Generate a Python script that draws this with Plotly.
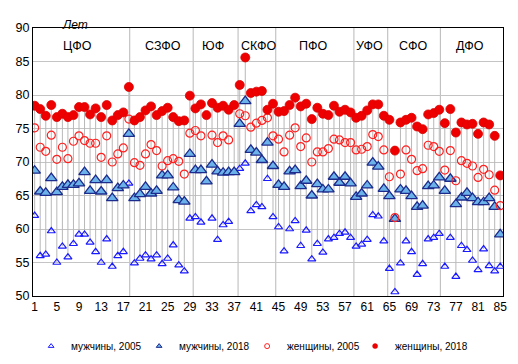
import plotly.graph_objects as go

regions = list(range(1, 86))

men_2005 = [62.0, 56.0, 56.2, 59.7, 55.0, 57.4, 55.8, 57.8, 59.2, 59.2, 58.0, 56.6, 55.0, 58.5, 54.4, 56.0, 56.6, 66.8,
            54.9, 55.6, 56.1, 55.5, 56.1, 54.8, 55.6, 57.6, 54.6, 53.7, 61.6,
            61.8, 61.0, None, 61.6, 58.4, 60.6, 61.1, None,
            69.0, 69.8, 62.7, 63.6, 63.3, 67.5, 61.8,
            60.3, 56.7, 60.0, 61.2, 57.5, 59.8, 55.5, 57.8, 56.5, 58.5, 58.7, 59.3, 59.5, 58.7,
            57.4, 57.7, 58.4, 62.1, 61.9, 58.2,
            54.1, 50.6, 54.9, 58.2, 56.6, 53.2, 54.8, 58.5, 58.7, 59.3,
            54.4, 58.7, 52.9, 57.5, 56.9, 55.3, 53.9, 57.0, 54.5, 53.7, 54.4]

men_2018 = [68.7, 65.6, 65.4, 67.6, 65.5, 66.3, 66.6, 66.6, 66.8, 68.5, 65.7, 67.3, 65.6, 67.3, 64.6, 66.1, 66.5, 74.2,
            64.6, 65.2, 66.3, 65.3, 65.7, 68.0, 68.0, 66.2, 64.3, 64.1, 71.2,
            68.8, 68.8, 67.1, 69.6, 68.6, 68.4, 68.5, 68.5,
            75.7, 79.1, 71.8, 71.4, 70.3, 72.9, 69.4,
            66.6, 66.3, 68.6, 68.8, 66.4, 67.2, 65.0, 66.7, 65.9, 65.9, 67.8, 66.9, 67.8, 66.8,
            64.8, 65.3, 66.5, 69.9, 69.3, 66.0,
            64.9, 61.5, 65.9, 65.7, 64.9, 63.3, 63.5, 66.4, 66.5, 67.7,
            65.7, 67.5, 63.7, 64.7, 65.4, 64.6, 64.0, 64.0, 64.6, 63.3, 59.2]

women_2005 = [75.1, 72.2, 71.6, 74.0, 70.4, 72.2, 70.5, 73.1, 73.9, 73.2, 72.8, 72.8, 70.7, 73.9, 70.0, 71.2, 72.1, 76.4,
              69.9, 69.5, 71.2, 72.6, 71.7, 69.4, 70.2, 70.5, 70.1, 68.2, 74.3,
              74.7, 73.9, None, 74.0, 72.9, 73.9, 73.3, None,
              77.2, 76.9, 75.2, 75.8, 76.2, 76.6, 73.9,
              73.4, 71.5, 74.0, 75.1, 72.3, 73.6, 70.0, 71.5, 71.5, 72.0, 73.4, 73.3, 72.9, 72.9,
              71.8, 71.9, 72.3, 74.1, 73.8, 71.8,
              67.8, 61.7, 68.2, 71.8, 70.4, 68.7, 69.0, 72.5, 72.3, 71.6,
              68.8, 71.7, 67.2, 70.2, 69.8, 69.4, 67.7, 68.9, 68.1, 65.8, 63.5]

women_2018 = [78.4, 77.9, 76.9, 78.5, 76.7, 77.2, 76.7, 77.0, 78.2, 78.2, 77.1, 78.0, 76.7, 78.5, 76.2, 77.0, 77.4, 81.2,
              76.2, 76.7, 77.7, 78.3, 77.0, 77.6, 78.1, 76.7, 76.1, 76.2, 79.9,
              78.0, 78.6, 77.0, 78.8, 78.1, 78.4, 77.8, 78.5,
              81.5, 85.6, 80.3, 80.5, 80.6, 77.8, 78.7,
              77.5, 77.6, 78.5, 79.6, 78.3, 78.7, 76.4, 78.1, 77.2, 77.0, 78.4, 77.5, 77.8, 77.4,
              76.6, 76.9, 77.7, 78.6, 78.6, 76.9,
              76.3, 71.7, 75.9, 76.3, 76.6, 75.3, 74.9, 77.1, 77.3, 77.8,
              75.8, 77.9, 74.4, 75.9, 75.6, 75.7, 74.2, 75.9, 75.6, 73.9, 68.0]

district_names = ["ЦФО", "СЗФО", "ЮФ", "СКФО", "ПФО", "УФО", "СФО", "ДФО"]
district_label_x = [8.8, 24.1, 33.2, 41.3, 51.2, 61.5, 69.3, 79.6]
district_dividers = [18.15, 29.6, 37.7, 44.5, 58.6, 64.7, 74.2]

x_ticks = list(range(1, 86, 4))
y_ticks = list(range(50, 91, 5))

series_names = ["мужчины, 2005", "мужчины, 2018", "женщины, 2005", "женщины, 2018"]

styles = [
    dict(symbol="triangle-up-open", size=7, color="#1a1aff", line=dict(width=1.2, color="#1a1aff")),
    dict(symbol="triangle-up", size=10, color="#6cb2ea", line=dict(width=1.3, color="#1c2b8c")),
    dict(symbol="circle-open", size=8, color="#ff2020", line=dict(width=1.2, color="#ff2020")),
    dict(symbol="circle", size=9, color="#ee0000", line=dict(width=0.8, color="#dd0000")),
]
legend_styles = [
    dict(symbol="triangle-up-open", size=5, color="#1a1aff", line=dict(width=1, color="#1a1aff")),
    dict(symbol="triangle-up", size=5, color="#6cb2ea", line=dict(width=1, color="#1c2b8c")),
    dict(symbol="circle-open", size=5, color="#ff2020", line=dict(width=1, color="#ff2020")),
    dict(symbol="circle", size=5, color="#ee0000", line=dict(width=0.5, color="#dd0000")),
]
legend_widths = [None, None, None, 80]

# high-low lines
hl_x, hl_y = [], []
for i, vals in zip(regions, zip(men_2005, men_2018, women_2005, women_2018)):
    v = [a for a in vals if a is not None]
    hl_x += [i, i, None]
    hl_y += [min(v), max(v), None]

fig = go.Figure()
fig.add_trace(go.Scatter(x=hl_x, y=hl_y, mode="lines", line=dict(color="#b8b8b8", width=1),
                         showlegend=False, hoverinfo="skip"))

for name, ys, st in zip(series_names, [men_2005, men_2018, women_2005, women_2018], styles):
    fig.add_trace(go.Scatter(x=regions, y=ys, mode="markers", name=name, marker=st,
                             showlegend=False, legendgroup=name))
for name, st, lw in zip(series_names, legend_styles, legend_widths):
    tr = go.Scatter(x=[None], y=[None], mode="markers", name=name, marker=st,
                    showlegend=True, legendgroup=name)
    if lw:
        tr.legendwidth = lw
    fig.add_trace(tr)

shapes = []
for d in district_dividers:
    shapes.append(dict(type="line", xref="x", yref="y", x0=d, x1=d, y0=50, y1=90,
                       line=dict(color="#b8b8b8", width=1), layer="below"))

annotations = []
for name, xx in zip(district_names, district_label_x):
    annotations.append(dict(x=xx, y=87.3, xref="x", yref="y", text=name, showarrow=False,
                            font=dict(size=12.5, color="black")))
annotations.append(dict(x=0.057, y=1.045, xref="paper", yref="paper", text="Лет", showarrow=False,
                        font=dict(size=12, color="black", style="italic")))

# page body has an 8px default margin, so the figure is 8px smaller and offset
fig.update_layout(
    width=510, height=356,
    margin=dict(l=25, r=15, t=20, b=68, autoexpand=False),
    paper_bgcolor="white", plot_bgcolor="white",
    font=dict(family="Liberation Sans, Arial, sans-serif", size=12, color="black"),
    shapes=shapes, annotations=annotations,
    legend=dict(orientation="h", x=-0.004, xanchor="left", y=-0.187, yanchor="middle",
                font=dict(size=10), itemwidth=30, bgcolor="rgba(0,0,0,0)",
                entrywidth=63, entrywidthmode="pixels",
                tracegroupgap=0, itemclick=False),
    showlegend=True,
)
fig.update_xaxes(range=[0.7, 85.5], tickvals=x_ticks, ticktext=[str(t) for t in x_ticks],
                 showgrid=False, zeroline=False, showline=True, linecolor="black", linewidth=1,
                 mirror=True, ticks="", tickfont=dict(size=12), automargin=False)
fig.update_yaxes(range=[50, 90], tickvals=y_ticks, showgrid=True, gridcolor="#c4c4c4", gridwidth=1,
                 zeroline=False, showline=True, linecolor="black", linewidth=1, mirror=True,
                 ticks="", tickfont=dict(size=12.5), automargin=False)

fig.write_html("out.html")
